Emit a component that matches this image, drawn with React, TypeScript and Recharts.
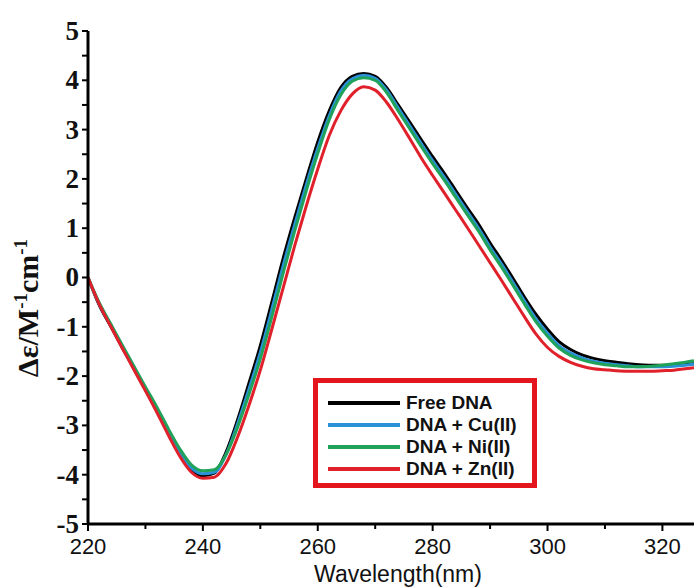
import { LineChart, Line, XAxis, YAxis } from "recharts";

// wavelength (nm)
const wavelengths = [
  220, 222, 224, 226, 228, 230, 232, 234, 236, 238, 240, 242, 244, 246, 248, 250,
  252, 254, 256, 258, 260, 262, 264, 266, 268, 270, 272, 274, 276, 278, 280, 282,
  284, 286, 288, 290, 292, 294, 296, 298, 300, 302, 304, 306, 308, 310, 312, 314,
  316, 318, 320, 322, 324, 325.5,
];

// Δε values
const freeDNA = [
  0, -0.57, -1.0, -1.43, -1.85, -2.28, -2.7, -3.17, -3.6, -3.9, -4.02, -3.97, -3.55, -2.9, -2.15, -1.38,
  -0.5, 0.4, 1.22, 2.0, 2.75, 3.38, 3.85, 4.08, 4.14, 4.08, 3.85, 3.5, 3.15, 2.8, 2.45, 2.12,
  1.77, 1.42, 1.08, 0.7, 0.35, -0.02, -0.4, -0.75, -1.05, -1.3, -1.46, -1.57, -1.64, -1.69, -1.72, -1.75,
  -1.77, -1.78, -1.78, -1.77, -1.76, -1.75,
];
const cuDNA = [
  0, -0.55, -0.98, -1.41, -1.83, -2.25, -2.67, -3.12, -3.55, -3.86, -3.98, -3.95, -3.6, -2.98, -2.27, -1.52,
  -0.65, 0.25, 1.08, 1.88, 2.62, 3.28, 3.78, 4.03, 4.1, 4.04, 3.8, 3.44, 3.08, 2.72, 2.37, 2.04,
  1.69, 1.34, 1.0, 0.62, 0.27, -0.1, -0.48, -0.84, -1.13, -1.38, -1.53, -1.63, -1.7, -1.74, -1.77, -1.79,
  -1.81, -1.81, -1.81, -1.8, -1.78, -1.76,
];
const niDNA = [
  0, -0.52, -0.95, -1.38, -1.8, -2.22, -2.63, -3.07, -3.48, -3.8, -3.92, -3.9, -3.6, -3.05, -2.38, -1.65,
  -0.8, 0.1, 0.95, 1.76, 2.52, 3.2, 3.7, 3.98, 4.05, 4.0, 3.75, 3.38, 3.02, 2.66, 2.31, 1.98,
  1.63, 1.28, 0.94, 0.56, 0.21, -0.16, -0.54, -0.9, -1.19, -1.43, -1.58, -1.67, -1.73, -1.77, -1.79, -1.81,
  -1.81, -1.8, -1.78, -1.75, -1.72, -1.69,
];
const znDNA = [
  0, -0.55, -1.0, -1.44, -1.87, -2.3, -2.74, -3.2, -3.63, -3.95, -4.07, -4.05, -3.78, -3.25, -2.6, -1.88,
  -1.05, -0.2, 0.65, 1.45, 2.2, 2.88, 3.38, 3.72, 3.87, 3.8, 3.55, 3.2, 2.82, 2.43, 2.07, 1.72,
  1.37, 1.02, 0.66, 0.3, -0.06, -0.43, -0.8, -1.15, -1.42, -1.6, -1.72, -1.8, -1.85, -1.87, -1.89, -1.9,
  -1.9, -1.9, -1.89, -1.88, -1.85, -1.83,
];

const seriesNames = ["Free DNA", "DNA + Cu(II)", "DNA + Ni(II)", "DNA + Zn(II)"];
const seriesKeys = ["free", "cu", "ni", "zn"];
const seriesColors = ["#000000", "#2a90d8", "#20a25a", "#e0202a"];

const xTicks = [220, 230, 240, 250, 260, 270, 280, 290, 300, 310, 320];
const yTicks = [-5, -4.5, -4, -3.5, -3, -2.5, -2, -1.5, -1, -0.5, 0, 0.5, 1, 1.5, 2, 2.5, 3, 3.5, 4, 4.5, 5];

const data = wavelengths.map((w, i) => ({
  w,
  free: freeDNA[i],
  cu: cuDNA[i],
  ni: niDNA[i],
  zn: znDNA[i],
}));

const sans = "'Liberation Sans', Arial, sans-serif";
const serif = "'Liberation Serif', 'Times New Roman', serif";

function XTick(props: any) {
  const { x, y, payload } = props;
  const major = payload.value % 20 === 0;
  return (
    <g>
      <line x1={x} x2={x} y1={y} y2={y + (major ? 7 : 5)} stroke="#000" strokeWidth={2} />
      {major && (
        <text x={x} y={y + 30} textAnchor="middle" fontFamily={sans} fontSize={22} fill="#111">
          {payload.value}
        </text>
      )}
    </g>
  );
}

function YTick(props: any) {
  const { x, y, payload } = props;
  const major = Number.isInteger(payload.value);
  return (
    <g>
      <line x1={x - 6} x2={x} y1={y} y2={y} stroke="#000" strokeWidth={2} />
      {major && (
        <text x={x - 9} y={y} dy="0.33em" textAnchor="end" fontFamily={serif} fontWeight="bold" fontSize={27} fill="#111">
          {payload.value}
        </text>
      )}
    </g>
  );
}

function XTitle() {
  return (
    <text x={398} y={582} textAnchor="middle" fontFamily={sans} fontSize={23} fill="#111">
      Wavelength(nm)
    </text>
  );
}

function YTitle() {
  return (
    <text
      transform="rotate(-90, 38, 308)"
      x={38}
      y={308}
      textAnchor="middle"
      fontFamily={serif}
      fontWeight="bold"
      fontSize={30}
      fill="#111"
    >
      Δε/M
      <tspan dy={-11} fontSize={19}>-1</tspan>
      <tspan dy={11}>cm</tspan>
      <tspan dy={-11} fontSize={19}>-1</tspan>
    </text>
  );
}

export default function App() {
  return (
    <div style={{ position: "absolute", left: 0, top: 0, width: 694, height: 587, background: "#fff" }}>
      <LineChart width={694} height={587} data={data} margin={{ top: 31, right: 0, bottom: 0, left: 0 }}>
        <XAxis
          dataKey="w"
          type="number"
          domain={[220, 325.5]}
          ticks={xTicks}
          interval={0}
          height={63}
          tickSize={0}
          tickMargin={0}
          tickLine={false}
          tick={<XTick />}
          axisLine={{ stroke: "#000", strokeWidth: 3 }}
          allowDataOverflow
          label={<XTitle />}
        />
        <YAxis
          type="number"
          domain={[-5, 5]}
          ticks={yTicks}
          interval={0}
          width={88}
          tickSize={0}
          tickMargin={0}
          tickLine={false}
          tick={<YTick />}
          axisLine={{ stroke: "#000", strokeWidth: 3 }}
          label={<YTitle />}
        />
        {seriesKeys.map((k, i) => (
          <Line
            key={k}
            dataKey={k}
            name={seriesNames[i]}
            type="monotone"
            stroke={seriesColors[i]}
            strokeWidth={3}
            dot={false}
            isAnimationActive={false}
          />
        ))}
      </LineChart>
      <div
        style={{
          position: "absolute",
          left: 313,
          top: 378,
          width: 224,
          height: 110,
          boxSizing: "border-box",
          border: "5px solid #e3161e",
          background: "#fff",
          paddingTop: 9,
        }}
      >
        {seriesNames.map((n, i) => (
          <div key={n} style={{ display: "flex", alignItems: "center", height: 22 }}>
            <div style={{ marginLeft: 10, width: 72, height: 4, background: seriesColors[i] }} />
            <span style={{ marginLeft: 6, fontFamily: sans, fontWeight: "bold", fontSize: 19, color: "#111" }}>{n}</span>
          </div>
        ))}
      </div>
    </div>
  );
}
